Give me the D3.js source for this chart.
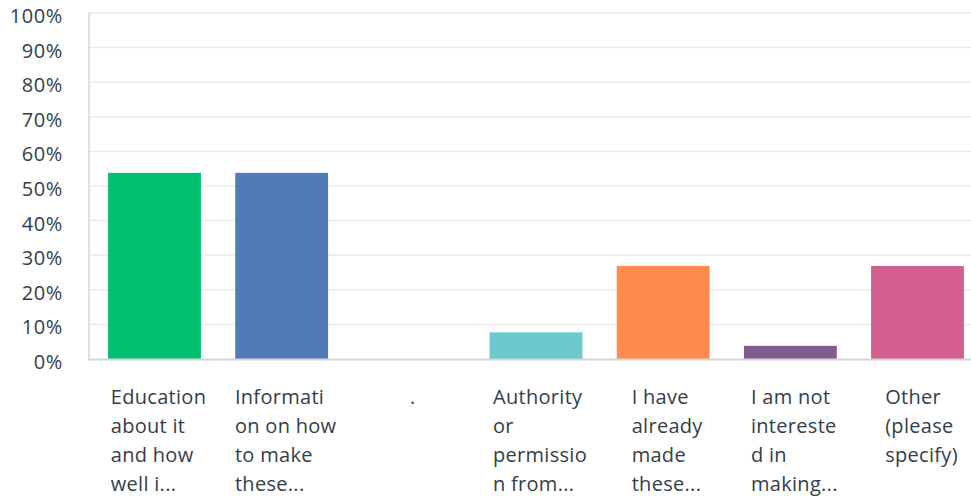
<!DOCTYPE html>
<html>
<head>
<meta charset="utf-8">
<script src="https://cdn.jsdelivr.net/npm/d3@7"></script>
<style>
  body { margin: 0; background: #fff; }
  text { font-family: "Open Sans", Roboto, sans-serif; fill: #333e48; }
</style>
</head>
<body>
<script>
(function() {

  // Chart data
  var categories = [
    ["Education", "about it", "and how", "well i..."],
    ["Informati", "on on how", "to make", "these..."],
    ["."],
    ["Authority", "or", "permissio", "n from..."],
    ["I have", "already", "made", "these..."],
    ["I am not", "intereste", "d in", "making..."],
    ["Other", "(please", "specify)"]
  ];
  var values = [0.538, 0.538, 0, 0.077, 0.269, 0.038, 0.269];
  var colors = ["#00bf6f", "#507cb6", "#f9be00", "#6bc8cd", "#ff8b4f", "#7d5e90", "#d25f90"];
  var yTicks = [0, 0.1, 0.2, 0.3, 0.4, 0.5, 0.6, 0.7, 0.8, 0.9, 1];

  var width = 971,
      height = 496;

  var svg = d3.select("body")
      .append("svg")
      .attr("width", width)
      .attr("height", height);

  // Scales
  var x = d3.scaleBand()
      .domain(d3.range(values.length))
      .range([89, 983])
      .paddingInner(0.27)
      .paddingOuter(0.15);

  var y = d3.scaleLinear()
      .domain([0, 1])
      .range([359, 13]);

  // Gridlines
  svg.selectAll(".grid")
      .data(yTicks.slice(1))
      .enter()
      .append("line")
      .attr("class", "grid")
      .attr("x1", 89)
      .attr("x2", width)
      .attr("y1", function(d) { return y(d); })
      .attr("y2", function(d) { return y(d); })
      .style("stroke", "#ececec")
      .style("stroke-width", 1.5);

  // Y axis labels
  svg.selectAll(".ytick")
      .data(yTicks)
      .enter()
      .append("text")
      .attr("class", "ytick")
      .attr("x", 63)
      .attr("y", function(d) { return y(d) + 3; })
      .attr("dy", "0.35em")
      .attr("text-anchor", "end")
      .style("font-size", "20px")
      .style("letter-spacing", "0.6px")
      .text(function(d) { return Math.round(d * 100) + "%"; });

  // Bars
  svg.selectAll(".bar")
      .data(values)
      .enter()
      .append("rect")
      .attr("class", "bar")
      .attr("x", function(d, i) { return x(i); })
      .attr("width", x.bandwidth())
      .attr("y", function(d) { return y(d); })
      .attr("height", function(d) { return y(0) - y(d); })
      .style("fill", function(d, i) { return colors[i]; });

  // Axis lines
  svg.append("line")
      .attr("x1", 89).attr("x2", 89)
      .attr("y1", y(1)).attr("y2", y(0))
      .style("stroke", "#d6d6d6")
      .style("stroke-width", 1.5);
  svg.append("line")
      .attr("x1", 88).attr("x2", width)
      .attr("y1", y(0) + 0.5).attr("y2", y(0) + 0.5)
      .style("stroke", "#d6d6d6")
      .style("stroke-width", 2);

  // Category labels, wrapped, left aligned, block centred under bar
  var labels = svg.selectAll(".xlabel")
      .data(categories)
      .enter()
      .append("text")
      .attr("class", "xlabel")
      .style("font-size", "20px")
      .style("letter-spacing", "0.3px");

  labels.each(function(lines, i) {
    var t = d3.select(this);
    lines.forEach(function(line, j) {
      t.append("tspan")
        .attr("y", 404 + j * 29)
        .text(line);
    });
    var maxW = d3.max(t.selectAll("tspan").nodes(), function(n) {
      return n.getComputedTextLength();
    });
    var left = x(i) + x.bandwidth() / 2 + 4 - maxW / 2;
    t.selectAll("tspan").attr("x", left);
  });

})();
</script>
</body>
</html>
